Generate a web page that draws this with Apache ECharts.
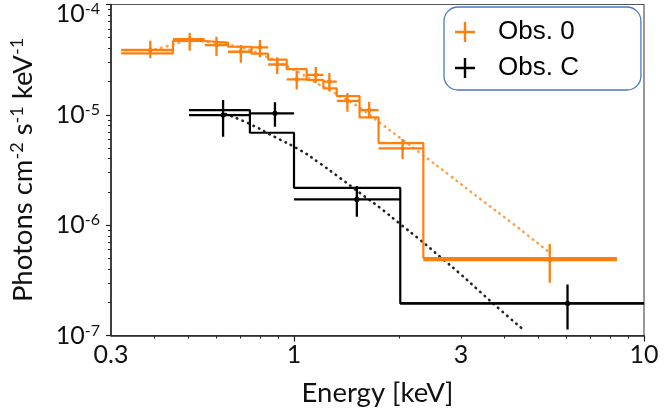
<!DOCTYPE html>
<html><head><meta charset="utf-8">
<script src="https://cdn.jsdelivr.net/npm/echarts@6/dist/echarts.min.js"></script>
<style>html,body{margin:0;padding:0;background:#fff}#c{width:665px;height:413px}</style>
</head><body><div id="c"></div>
<script>
// ---- data (energy in keV, flux in photons cm^-2 s^-1 keV^-1) ----
const xTickValues = [0.3, 1, 3, 10];
const xTickLabels = ['0.3', '1', '3', '10'];
const xMinorTicks = [0.4,0.5,0.6,0.7,0.8,0.9,2,3,4,5,6,7,8,9];
const yTickValues = [1e-7, 1e-6, 1e-5, 1e-4];
const yTickExponents = ['-7', '-6', '-5', '-4'];
const yMinorTicks = [2e-7,3e-7,4e-7,5e-7,6e-7,7e-7,8e-7,9e-7,2e-6,3e-6,4e-6,5e-6,6e-6,7e-6,8e-6,9e-6,2e-5,3e-5,4e-5,5e-5,6e-5,7e-5,8e-5,9e-5];

// Obs. 0 data points
const obs0E    = [0.3885,0.5035,0.6005,0.7048,0.7991,0.8956,1.018,1.154,1.262,1.421,1.640,2.043,5.379];
const obs0Elo  = [0.3208,0.4510,0.5559,0.6481,0.7563,0.8440,0.9530,1.087,1.213,1.325,1.539,1.744,2.342];
const obs0Ehi  = [0.4510,0.5559,0.6481,0.7563,0.8440,0.9530,1.087,1.213,1.325,1.539,1.744,2.342,8.368];
const obs0F    = [3.87e-5,4.84e-5,4.29e-5,3.73e-5,4.09e-5,2.86e-5,2.10e-5,2.30e-5,2.00e-5,1.34e-5,1.105e-5,4.97e-6,4.83e-7];
const obs0Flo  = [3.25e-5,3.81e-5,3.41e-5,2.97e-5,3.32e-5,2.34e-5,1.70e-5,1.94e-5,1.65e-5,1.067e-5,9.30e-6,3.97e-6,3.00e-7];
const obs0Fhi  = [4.70e-5,5.55e-5,5.11e-5,4.29e-5,4.77e-5,3.32e-5,2.51e-5,2.71e-5,2.39e-5,1.576e-5,1.315e-5,6.03e-6,6.74e-7];
// Obs. 0 folded model (step) : bin edges and values
const obs0BinEdges = [0.3208,0.4510,0.5559,0.6481,0.7563,0.8440,0.9530,1.087,1.213,1.325,1.539,1.744,2.342,8.368];
const obs0BinModel = [3.61e-5,4.67e-5,4.52e-5,4.14e-5,3.58e-5,3.17e-5,2.60e-5,2.07e-5,1.74e-5,1.48e-5,9.49e-6,5.55e-6,5.03e-7];
// Obs. 0 model curve (dotted)
const obs0CurveE = [0.3867,0.4471,0.5035,0.5745,0.6555,0.7481,0.8258,0.9118,1.040,1.187,1.355,1.546,1.764,2.012,2.296,2.799,3.412,4.158,5.308];
const obs0CurveF = [3.79e-5,4.29e-5,4.67e-5,4.57e-5,4.29e-5,3.87e-5,3.41e-5,2.95e-5,2.39e-5,1.86e-5,1.48e-5,1.152e-5,8.42e-6,6.16e-6,4.50e-6,2.79e-6,1.72e-6,1.07e-6,5.82e-7];

// Obs. C data points
const obsCE   = [0.6271,0.8822,1.512,6.046];
const obsCElo = [0.5012,0.7481,1.0,2.012];
const obsCEhi = [0.7481,1.0,2.012,10];
const obsCF   = [9.96e-6,1.032e-5,1.713e-6,1.955e-7];
const obsCFlo = [6.33e-6,7.80e-6,1.19e-6,1.136e-7];
const obsCFhi = [1.362e-5,1.298e-5,2.26e-6,2.90e-7];
// Obs. C folded model (step)
const obsCBinEdges = [0.5012,0.7481,1.0,2.012,10];
const obsCBinModel = [1.105e-5,6.88e-6,2.18e-6,1.955e-7];
// Obs. C model curve (dotted)
const obsCCurveE = [0.6385,0.7481,0.8822,1.040,1.172,1.355,1.546,1.764,2.012,2.296,2.620,2.990,3.412,3.893,4.500];
const obsCCurveF = [1.017e-5,8.25e-6,6.29e-6,4.80e-6,3.73e-6,2.67e-6,1.95e-6,1.43e-6,1.023e-6,7.33e-7,5.14e-7,3.60e-7,2.47e-7,1.70e-7,1.143e-7];

// ---- build ----
const L = Math.log10;
const ORANGE = '#ff7f0e';
function stepPts(edges, vals){const p=[];for(let i=0;i<vals.length;i++){p.push([L(edges[i]),L(vals[i])]);p.push([L(edges[i+1]),L(vals[i])]);}return p;}
function curvePts(E,F){return E.map((e,i)=>[L(e),L(F[i])]);}
function errRows(E,Elo,Ehi,F,Flo,Fhi){return E.map((e,i)=>[L(e),L(Elo[i]),L(Ehi[i]),L(F[i]),L(Flo[i]),L(Fhi[i])]);}
function errRender(color, dot){
  return function(params, api){
    const x=api.value(0), xl=api.value(1), xh=api.value(2), y=api.value(3), yl=api.value(4), yh=api.value(5);
    const a=api.coord([xl,y]), b=api.coord([xh,y]), c=api.coord([x,yl]), d=api.coord([x,yh]), m=api.coord([x,y]);
    const st={stroke:color,lineWidth:2.3};
    return {type:'group',children:[
      {type:'line',shape:{x1:a[0],y1:a[1],x2:b[0],y2:b[1]},style:st},
      {type:'line',shape:{x1:c[0],y1:c[1],x2:d[0],y2:d[1]},style:st},
      {type:'circle',shape:{cx:m[0],cy:m[1],r:dot},style:{fill:color}}
    ]};
  };
}
const xLabelMap = {}; xTickValues.forEach((v,i)=>xLabelMap[L(v).toFixed(4)]=xTickLabels[i]);
const yLabelMap = {}; yTickValues.forEach((v,i)=>yLabelMap[L(v).toFixed(4)]=yTickExponents[i]);
const FONT = 'Lato';
const plus = 'path://M8.8,0H11.2V8.8H20V11.2H11.2V20H8.8V11.2H0V8.8H8.8Z';

const chart = echarts.init(document.getElementById('c'), null, {renderer:'canvas'});
chart.setOption({
  animation:false,
  grid:{left:111,right:21,top:4.5,bottom:77.5,outerBoundsMode:'none',containLabel:false,
        show:true,borderColor:'#555',borderWidth:1.2,backgroundColor:'transparent'},
  xAxis:[{
    type:'value',min:L(0.3),max:1,
    axisLine:{show:true,onZero:false,lineStyle:{color:'#222',width:1.5}},
    axisTick:{show:true,customValues:[0,1],length:6,lineStyle:{color:'#222',width:1.2}},
    axisLabel:{show:true,customValues:xTickValues.map(L),margin:7,fontFamily:FONT,fontSize:25,color:'#111',
      formatter:v=>xLabelMap[(+v).toFixed(4)]||''},
    splitLine:{show:false},
    name:'Energy [keV]',nameLocation:'middle',nameGap:44,
    nameTextStyle:{fontFamily:FONT,fontSize:27.5,color:'#111'}
  },{
    type:'value',min:L(0.3),max:1,gridIndex:0,position:'bottom',
    axisLine:{show:false,onZero:false},axisLabel:{show:false},splitLine:{show:false},
    axisTick:{show:true,customValues:xMinorTicks.map(L),length:3,lineStyle:{color:'#222',width:1}}
  }],
  yAxis:[{
    type:'value',min:-7,max:-4,
    axisLine:{show:true,onZero:false,lineStyle:{color:'#222',width:1.5}},
    axisTick:{show:true,customValues:yTickValues.map(L),length:5,lineStyle:{color:'#222',width:1.2}},
    axisLabel:{show:true,customValues:yTickValues.map(L),margin:11,color:'#111',
      formatter:v=>{const e=yLabelMap[(+v).toFixed(4)];return (e==='-4'?'{p|}\n':'')+'{b|10}{s|'+e+'}';},
      rich:{b:{fontFamily:FONT,fontSize:25,lineHeight:26,color:'#111'},
            s:{fontFamily:FONT,fontSize:16,lineHeight:18,verticalAlign:'top',color:'#111'},
            p:{fontSize:1,lineHeight:18}}},
    splitLine:{show:false},
    name:'Photons cm{s|-2} s{s|-1} keV{s|-1}',nameLocation:'middle',nameGap:73,
    nameTextStyle:{fontFamily:FONT,fontSize:27.5,color:'#111',lineHeight:30,
      rich:{s:{fontFamily:FONT,fontSize:18,lineHeight:19,verticalAlign:'top',color:'#111'}}}
  },{
    type:'value',min:-7,max:-4,gridIndex:0,position:'left',
    axisLine:{show:false,onZero:false},axisLabel:{show:false},splitLine:{show:false},
    axisTick:{show:true,customValues:yMinorTicks.map(L),length:3,lineStyle:{color:'#222',width:1}}
  }],
  legend:{
    data:[{name:'Obs. 0',icon:plus,itemStyle:{color:ORANGE}},{name:'Obs. C',icon:plus,itemStyle:{color:'#000'}}],
    orient:'vertical',left:444,top:7,itemWidth:20,itemHeight:20,itemGap:8,
    padding:[11,62,8,11],borderColor:'#4a78c8',borderWidth:1.3,borderRadius:14,backgroundColor:'#fff',
    selectedMode:false,
    textStyle:{fontFamily:'Liberation Sans',fontSize:26,lineHeight:28,color:'#000',padding:[0,0,0,18]}
  },
  series:[
    {name:'Obs. C model',type:'line',data:stepPts(obsCBinEdges,obsCBinModel),showSymbol:false,clip:true,
      lineStyle:{color:'#000',width:2.2},z:2},
    {name:'Obs. C curve',type:'line',data:curvePts(obsCCurveE,obsCCurveF),showSymbol:false,smooth:true,clip:true,
      lineStyle:{color:'#222',width:2.6,type:[0.5,5.5],cap:'round'},z:2},
    {name:'Obs. C',type:'custom',data:errRows(obsCE,obsCElo,obsCEhi,obsCF,obsCFlo,obsCFhi),
      renderItem:errRender('#000',2.6),encode:{x:0,y:3},clip:true,itemStyle:{color:'#000'},z:3},
    {name:'Obs. 0 model',type:'line',data:stepPts(obs0BinEdges,obs0BinModel),showSymbol:false,clip:true,
      lineStyle:{color:ORANGE,width:2.2},z:4},
    {name:'Obs. 0 curve',type:'line',data:curvePts(obs0CurveE,obs0CurveF),showSymbol:false,smooth:true,clip:true,
      lineStyle:{color:'rgba(255,127,14,0.75)',width:2.6,type:[0.5,5.5],cap:'round'},z:4},
    {name:'Obs. 0',type:'custom',data:errRows(obs0E,obs0Elo,obs0Ehi,obs0F,obs0Flo,obs0Fhi),
      renderItem:errRender(ORANGE,2.2),encode:{x:0,y:3},clip:true,itemStyle:{color:ORANGE},z:5}
  ]
});
</script></body></html>
